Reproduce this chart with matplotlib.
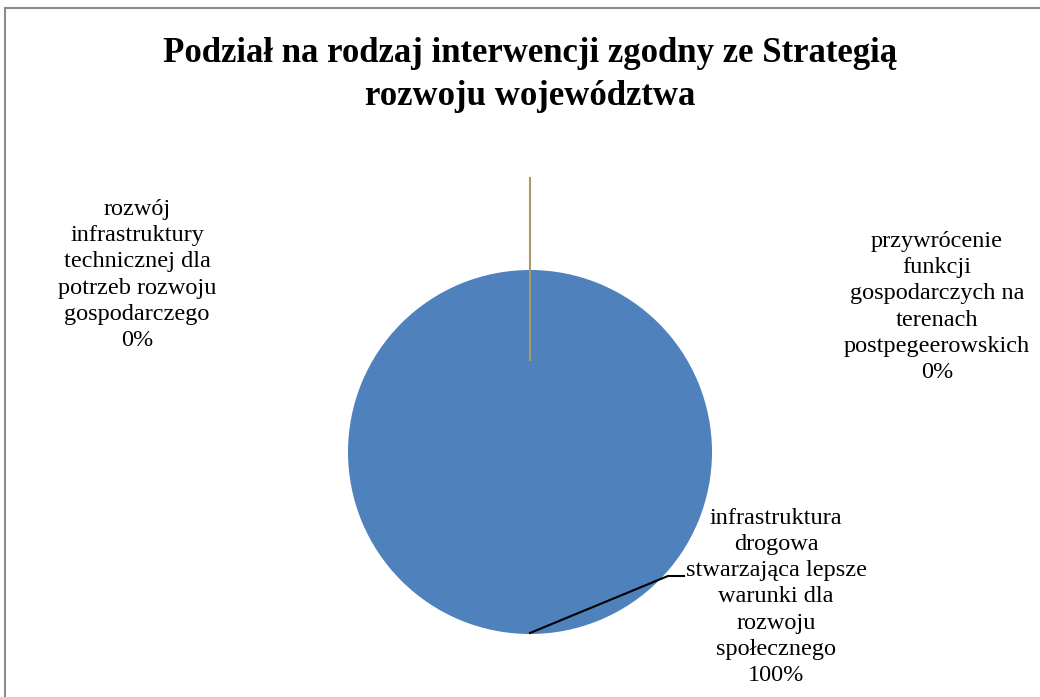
import matplotlib
matplotlib.use("Agg")
import matplotlib.pyplot as plt
from matplotlib.lines import Line2D

title = "Podział na rodzaj interwencji zgodny ze Strategią\nrozwoju województwa"
categories = [
    "rozwój\ninfrastruktury\ntechnicznej dla\npotrzeb rozwoju\ngospodarczego",
    "przywrócenie\nfunkcji\ngospodarczych na\nterenach\npostpegeerowskich",
    "infrastruktura\ndrogowa\nstwarzająca lepsze\nwarunki dla\nrozwoju\nspołecznego",
]
values = [0, 0, 100]
colors = ["#4F81BD", "#C0504D", "#4F81BD"]

W, H = 1040, 697
fig = plt.figure(figsize=(W / 100, H / 100), dpi=100)
fig.patch.set_facecolor("white")

# border
fig.add_artist(Line2D([5 / W, 5 / W], [1 - 8 / H, 0], color="#8C8C8C", lw=1.5))
fig.add_artist(Line2D([5 / W, 1], [1 - 8 / H, 1 - 8 / H], color="#8C8C8C", lw=1.5))

fig.text(530 / W, 1 - 75 / H, title, ha="center", va="center",
         family="Liberation Serif", fontweight="bold", fontsize=25, linespacing=1.42)

cx, cy, r = 530, 452, 182
ax = fig.add_axes([(cx - r) / W, (H - cy - r) / H, 2 * r / W, 2 * r / H])
ax.pie(values, colors=colors, startangle=90, counterclock=False, radius=1,
       wedgeprops=dict(linewidth=0))
ax.set_xlim(-1, 1)
ax.set_ylim(-1, 1)
ax.set_aspect("equal")
ax.axis("off")

# leader lines
ax.plot([0, 0], [(cy - 178) / r, (cy - 360) / r], color="#A99B66", lw=1.5, clip_on=False)
ax.plot([0, 138 / r, 154 / r], [-(633 - cy) / r, -(576 - cy) / r, -(576 - cy) / r],
        color="black", lw=1.5, clip_on=False)

total = sum(values)
label_pos = [(137, 275), (937, 307), (776, 597)]
for cat, v, (x, y) in zip(categories, values, label_pos):
    pct = f"{round(100 * v / total)}%"
    fig.text(x / W, 1 - y / H, cat + "\n" + pct, ha="center", va="center",
             family="Liberation Serif", fontsize=17.5, linespacing=1.32)

fig.savefig("out.png", dpi=100)
